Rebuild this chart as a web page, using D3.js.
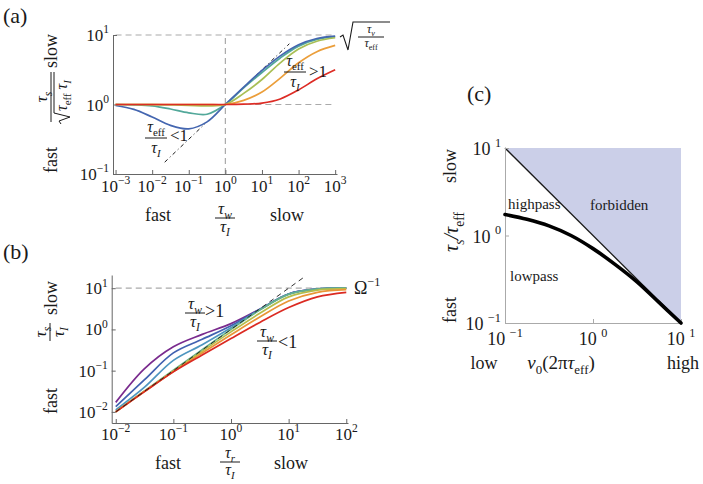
<!DOCTYPE html>
<html><head><meta charset="utf-8">
<script src="https://cdn.jsdelivr.net/npm/d3@7/dist/d3.min.js"></script>
<style>
html,body{margin:0;padding:0;background:#fff;}
svg{display:block;}
text{font-family:"Liberation Serif","Times New Roman",serif;fill:#1a1a1a;}
</style></head><body>
<svg id="chart" width="703" height="484"></svg>
<script>
// ---------- DATA (log10 values) ----------
// Panel (a): x = log10(tau_w/tau_I), y = log10(tau_s/sqrt(tau_eff tau_I))
const aXLog   = [-3,-2.5,-2,-1.5,-1,-0.5,0,0.5,1,1.5,2,2.5,3];
const aTeal   = [0,-0.005,-0.02,-0.065,-0.12,-0.14,0,0.24,0.46,0.67,0.84,0.935,0.975];
const aBlue   = [-0.014,-0.07,-0.18,-0.30,-0.35,-0.25,0,0.25,0.49,0.70,0.86,0.95,0.985];
const aGreen  = [0,0,-0.003,-0.006,-0.012,-0.02,0,0.16,0.36,0.60,0.80,0.91,0.96];
const aOrange = [0,0,0,0,0,0,0,0.06,0.18,0.38,0.60,0.76,0.85];
const aRed    = [0,0,0,0,0,0,0,0.005,0.02,0.08,0.21,0.37,0.50];
const aColors = ["#52a89a","#4466b0","#a8bf55","#eb9e3a","#dd2c25"];
const aAsymLow  = [[0.022,0.148],[0.28,0.53]];   // sqrt(x) guide, lower piece
const aAsymHigh = [[4,2],[56,7.48]];             // sqrt(x) guide, upper piece
const aXTicks = [1e-3,1e-2,1e-1,1,10,100,1000];
const aYTicks = [0.1,1,10];

// Panel (b): x = log10(tau_r/tau_I), y = log10(tau_s/tau_I)
const bXLog    = [-2,-1.5,-1,-0.5,0,0.5,1,1.5,2];
const bPurple  = [-1.77,-0.95,-0.42,-0.12,0.14,0.49,0.86,0.98,1.0];
const bBlue    = [-1.87,-1.22,-0.57,-0.24,0.09,0.49,0.86,0.98,1.0];
const bCyan    = [-1.95,-1.40,-0.75,-0.37,0.04,0.48,0.86,0.98,1.0];
const bGreen   = [-1.99,-1.49,-0.99,-0.49,0.0,0.47,0.85,0.98,1.0];
const bYellow  = [-2.0,-1.50,-1.01,-0.53,-0.06,0.39,0.79,0.955,0.99];
const bOrange  = [-2.0,-1.50,-1.02,-0.57,-0.13,0.30,0.69,0.90,0.965];
const bRed     = [-2.0,-1.51,-1.03,-0.62,-0.22,0.17,0.53,0.79,0.90];
const bColors  = ["#7a2b8e","#4161b0","#4e96c0","#66b18c","#b6bd4a","#e99536","#db2a22"];
const bDiag    = [[0.01,0.01],[20,20]];
const bXTicks = [1e-2,1e-1,1,10,100];
const bYTicks = [1e-2,1e-1,1,10];

// Panel (c): x = log10(nu0 2 pi tau_eff), y = log10(tau_s/tau_eff)
const cXLog      = [-1,-0.75,-0.5,-0.25,0,0.25,0.5,0.75,1];
const cBoundary  = [0.24,0.185,0.11,0.0,-0.15,-0.33,-0.53,-0.765,-1.0];
const cForbidden = [[0.1,10],[10,10],[10,0.1]];
const cDiag      = [[0.1,10],[10,0.1]];
const cXTicks = [0.1,1,10];
const cYTicks = [0.1,1,10];

// ---------- HELPERS ----------
const svg = d3.select("#chart");
const INK = "#1a1a1a";
const pts = (xs, ys) => xs.map((v,i)=>[10**v, 10**ys[i]]);
const smooth = (x,y)=>d3.line().x(d=>x(d[0])).y(d=>y(d[1])).curve(d3.curveCatmullRom.alpha(0.5));
const straight = (x,y)=>d3.line().x(d=>x(d[0])).y(d=>y(d[1]));

function rich(parent, x, y, parts, size, anchor, rot){
  const t = parent.append("text")
    .attr("transform",`translate(${x},${y})${rot?` rotate(${rot})`:""}`)
    .attr("text-anchor",anchor||"start").attr("font-size",size);
  let shift=0;
  for(const p of parts){
    const target = p.sub ? size*0.28 : p.sup ? -size*0.45 : 0;
    const ts = t.append("tspan").text(p.t);
    if(target-shift!==0) ts.attr("dy", target-shift);
    shift=target;
    if(p.sub||p.sup) ts.attr("font-size", size*0.68);
    if(p.i) ts.attr("font-style","italic");
  }
  return t;
}
const tauI = [{t:"τ",i:true},{t:"I",sub:true,i:true}];
const tauW = [{t:"τ",i:true},{t:"w",sub:true,i:true}];
const tauEff = [{t:"τ",i:true},{t:"eff",sub:true}];

function frac(parent, cx, cy, num, den, size, w, up, down){
  parent.append("line").attr("x1",cx-w/2).attr("x2",cx+w/2).attr("y1",cy).attr("y2",cy)
    .attr("stroke",INK).attr("stroke-width",1);
  rich(parent, cx, cy-(up||4), num, size, "middle");
  rich(parent, cx, cy+(down||size*0.8), den, size, "middle");
}
function expLabel(v){ const e=Math.round(Math.log10(v)); return e<0? "−"+(-e) : String(e); }

function axes(x,y,xt,yt,col){
  const x0=x.range()[0], y0=y.range()[0];
  const gx = svg.append("g").attr("transform",`translate(0,${y0})`)
    .call(d3.axisBottom(x).tickValues(xt).tickSizeInner(-4).tickSizeOuter(0).tickFormat(()=>""));
  const gy = svg.append("g").attr("transform",`translate(${x0},0)`)
    .call(d3.axisLeft(y).tickValues(yt).tickSizeInner(-4).tickSizeOuter(0).tickFormat(()=>""));
  [gx,gy].forEach(g=>{
    g.select(".domain").attr("stroke",col).attr("stroke-width",1);
    g.selectAll(".tick line").attr("stroke",col);
  });
}
function tickLabels(x,y,xt,yt,size,xOff,yOff,gap){
  const x0=x.range()[0], y0=y.range()[0];
  const sp = gap?" ":"";
  xt.forEach(v=>rich(svg, x(v), y0+xOff, [{t:"10"+sp},{t:expLabel(v),sup:true}], size, "middle"));
  yt.forEach(v=>rich(svg, x0-4, y(v)+yOff, [{t:"10"+sp},{t:expLabel(v),sup:true}], size, "end"));
}

// ================= PANEL (a) =================
{
  const x = d3.scaleLog().domain([10**-3.07, 10**3.05]).range([113,337]);
  const y = d3.scaleLog().domain([0.1,10]).range([174,35]);
  const dash = g=>g.attr("stroke","#aaa").attr("stroke-width",1.2).attr("stroke-dasharray","6,4").attr("fill","none");
  svg.append("path").attr("d",straight(x,y)([[1e-3,10],[1e3,10]])).call(dash);
  svg.append("path").attr("d",straight(x,y)([[1,1],[1e3,1]])).call(dash);
  svg.append("path").attr("d",straight(x,y)([[1,0.1],[1,10]])).call(dash);
  [aAsymLow,aAsymHigh].forEach(seg=>svg.append("path").attr("d",straight(x,y)(seg))
     .attr("stroke",INK).attr("stroke-width",1).attr("stroke-dasharray","4,3,1,3").attr("fill","none"));
  axes(x,y,aXTicks,aYTicks,"#666");
  [aTeal,aBlue,aGreen,aOrange,aRed].forEach((s,i)=>
    svg.append("path").attr("d",smooth(x,y)(pts(aXLog,s))).attr("stroke",aColors[i])
      .attr("stroke-width",1.7).attr("fill","none"));
  tickLabels(x,y,aXTicks,aYTicks,17,18,6,false);

  rich(svg,3,23,[{t:"(a)"}],22);
  // y axis label
  rich(svg,57,51,[{t:"slow"}],18,"middle",-90);
  rich(svg,57,160,[{t:"fast"}],18,"middle",-90);
  const g = svg.append("g").attr("transform","translate(51,97) rotate(-90)");
  g.append("line").attr("x1",-25).attr("x2",25).attr("y1",0).attr("y2",0).attr("stroke",INK);
  rich(g,0,-4,[{t:"τ",i:true},{t:"s",sub:true,i:true}],17,"middle");
  g.append("path").attr("d","M-27,10 L-24,8 L-20,19 L-16,3 L25,3").attr("stroke",INK).attr("fill","none").attr("stroke-width",1);
  rich(g,-14,16,[{t:"τ",i:true},{t:"eff",sub:true},{t:" τ",i:true},{t:"I",sub:true,i:true}],16,"start");
  // x axis label
  rich(svg,158,221,[{t:"fast"}],18,"middle");
  rich(svg,287,221,[{t:"slow"}],18,"middle");
  frac(svg,225,218,tauW,tauI,17,20);
  // annotations
  frac(svg,156,138,tauEff,tauI,16,22,6,15);
  rich(svg,170,141,[{t:"<1"}],17);
  frac(svg,295,72,tauEff,tauI,16,22,6,15);
  rich(svg,309,77,[{t:">1"}],17);
  // sqrt(tau_v/tau_eff)
  svg.append("path").attr("d","M340,37 L343,35 L348,50 L353,22 L390,22").attr("stroke",INK).attr("fill","none").attr("stroke-width",1.1);
  frac(svg,371,37,[{t:"τ",i:true},{t:"v",sub:true,i:true}],tauEff,12,26);
}

// ================= PANEL (b) =================
{
  const x = d3.scaleLog().domain([10**-2.07, 10**2.03]).range([111.7,348]);
  const y = d3.scaleLog().domain([10**-2.27, 10**1.32]).range([423,275]);
  svg.append("path").attr("d",straight(x,y)([[0.01,10],[100,10]]))
    .attr("stroke","#aaa").attr("stroke-width",1.2).attr("stroke-dasharray","6,4").attr("fill","none");
  axes(x,y,bXTicks,bYTicks,"#666");
  [bPurple,bBlue,bCyan,bGreen,bYellow,bOrange,bRed].forEach((s,i)=>
    svg.append("path").attr("d",smooth(x,y)(pts(bXLog,s))).attr("stroke",bColors[i])
      .attr("stroke-width",1.7).attr("fill","none"));
  svg.append("path").attr("d",straight(x,y)(bDiag)).attr("stroke",INK).attr("stroke-width",0.9)
    .attr("stroke-dasharray","5,4").attr("fill","none");
  tickLabels(x,y,bXTicks,bYTicks,17,17,6,false);

  rich(svg,3,259,[{t:"(b)"}],22);
  rich(svg,57,298,[{t:"slow"}],18,"middle",-90);
  rich(svg,57,401,[{t:"fast"}],18,"middle",-90);
  const g = svg.append("g").attr("transform","translate(50,332) rotate(-90)");
  frac(g,0,0,[{t:"τ",i:true},{t:"s",sub:true,i:true}],tauI,17,18);
  rich(svg,168,469,[{t:"fast"}],18,"middle");
  rich(svg,291,469,[{t:"slow"}],18,"middle");
  frac(svg,230,462,[{t:"τ",i:true},{t:"r",sub:true,i:true}],tauI,16,20);
  frac(svg,195,313,tauW,tauI,17,20);
  rich(svg,205,317,[{t:">1"}],18);
  frac(svg,267,341,tauW,tauI,17,20);
  rich(svg,278,348,[{t:"<1"}],18);
  rich(svg,354,294,[{t:"Ω"},{t:"−1",sup:true}],18);
}

// ================= PANEL (c) =================
{
  const x = d3.scaleLog().domain([0.1,10]).range([505,681]);
  const y = d3.scaleLog().domain([0.1,10]).range([323,148]);
  svg.append("path").attr("d",straight(x,y)(cForbidden)+"Z").attr("fill","#cbcfe8").attr("stroke","none");
  svg.append("path").attr("d",straight(x,y)(cDiag)).attr("stroke",INK).attr("stroke-width",1.3).attr("fill","none");
  axes(x,y,cXTicks,cYTicks,"#aaa");
  svg.append("path").attr("d",smooth(x,y)(pts(cXLog,cBoundary))).attr("stroke","#000")
    .attr("stroke-width",3.6).attr("fill","none").attr("stroke-linecap","round");
  tickLabels(x,y,cXTicks,cYTicks,18,22,7,true);

  rich(svg,467,101,[{t:"(c)"}],22);
  rich(svg,508,209,[{t:"highpass"}],15);
  rich(svg,590,210,[{t:"forbidden"}],15);
  rich(svg,510,281,[{t:"lowpass"}],15);
  rich(svg,456,166,[{t:"slow"}],18,"middle",-90);
  rich(svg,456,310,[{t:"fast"}],18,"middle",-90);
  rich(svg,458,232,[{t:"τ",i:true},{t:"s",sub:true,i:true},{t:"/τ",i:true},{t:"eff",sub:true}],20,"middle",-90);
  rich(svg,484,369,[{t:"low"}],18,"middle");
  rich(svg,683,369,[{t:"high"}],18,"middle");
  rich(svg,561,369,[{t:"ν",i:true},{t:"0",sub:true},{t:"(2π"},{t:"τ",i:true},{t:"eff",sub:true},{t:")"}],19,"middle");
}
</script>
</body></html>
